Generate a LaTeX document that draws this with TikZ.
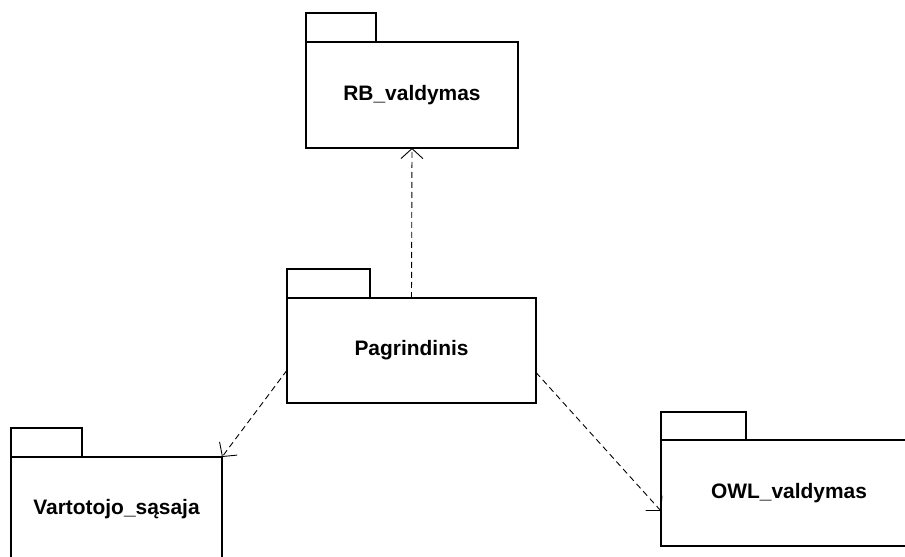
\documentclass[tikz,border=0pt]{standalone}
\usepackage{fontspec}
\setmainfont{Liberation Sans}
\usetikzlibrary{arrows.meta}
\begin{document}
\begin{tikzpicture}[x=1bp,y=-1bp,
  pkgbody/.style={draw,line width=1.7bp,fill=white,inner sep=0pt,outer sep=0pt,anchor=north west,
    font=\fontsize{21}{25}\selectfont\bfseries},
  pkgtab/.style={draw,line width=1.7bp,inner sep=0pt,outer sep=0pt,anchor=south west},
  dep/.style={draw,line width=0.9bp,dash pattern=on 6bp off 4bp,
    -{Straight Barb[length=10bp,width=22bp,line width=0.9bp]}}]
\useasboundingbox (0,0) rectangle (905,557);
\clip (0,0) rectangle (905,557);

% package bodies
\node[pkgbody,minimum width=212bp,minimum height=106bp] (rb)  at (306,42)  {RB\_valdymas};
\node[pkgbody,minimum width=249bp,minimum height=105bp] (pag) at (287,298) {Pagrindinis};
\node[pkgbody,minimum width=211bp,minimum height=105bp] (var) at (11,457)  {Vartotojo\_sąsaja};
\node[pkgbody,minimum width=256bp,minimum height=106bp] (owl) at (661,440) {OWL\_valdymas};

% package tabs, sharing their bottom edge with the body's top edge
\node[pkgtab,minimum width=70bp,minimum height=29bp] (rbtab)  at (rb.north west)  {};
\node[pkgtab,minimum width=83bp,minimum height=29bp] (pagtab) at (pag.north west) {};
\node[pkgtab,minimum width=71bp,minimum height=29bp] (vartab) at (var.north west) {};
\node[pkgtab,minimum width=85bp,minimum height=28bp] (owltab) at (owl.north west) {};

% dependencies
\draw[dep] (pag.north) -- (rb.south);
\draw[dep] (pag.189.4) -- (var.north east);
\draw[dep] (pag.350.6) -- (owl.188.4);
\end{tikzpicture}
\end{document}
